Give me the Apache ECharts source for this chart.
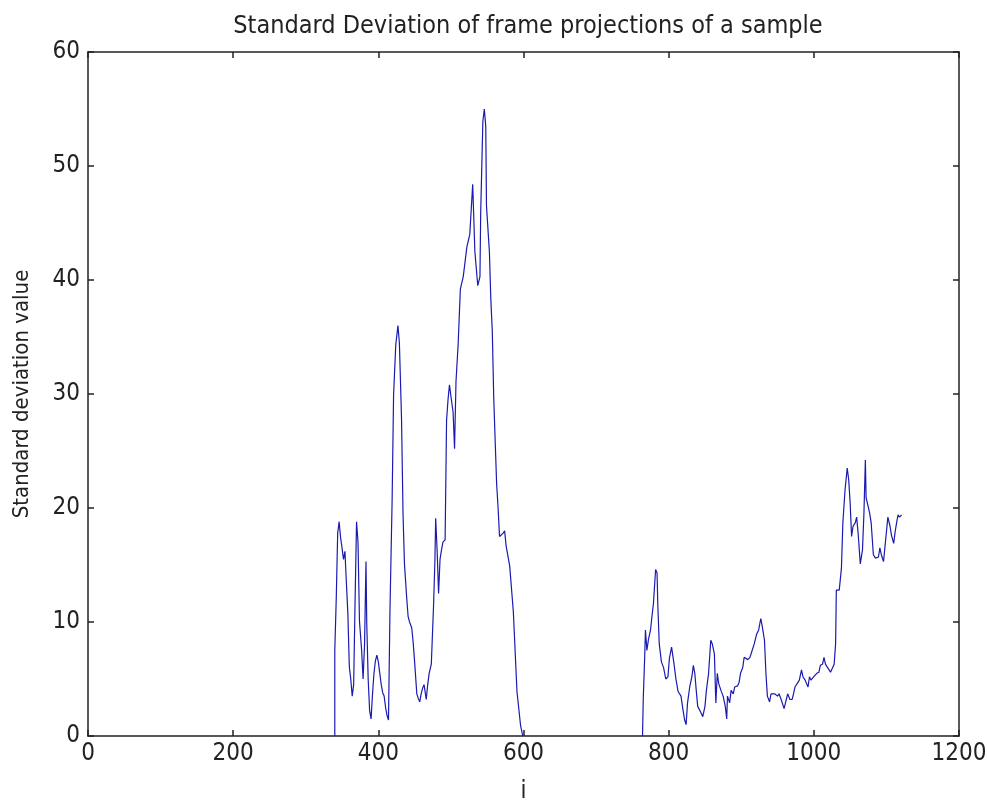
<!DOCTYPE html>
<html>
<head>
<meta charset="utf-8">
<script src="https://cdn.jsdelivr.net/npm/echarts@6/dist/echarts.min.js"></script>
<style>
  html, body { margin: 0; padding: 0; background: #fff; }
  #chart { width: 987px; height: 803px; }
</style>
</head>
<body>
<div id="chart"></div>
<script>
// frame index (i) and std value; null splits the two segments
const frameIdx = [
  340, 340, 342, 344, 346, 348, 350, 352, 354, 356, 358, 360, 362, 364, 366, 368, 370, 372, 374, 376,
  377, 379, 381, 383, 384, 386, 388, 390, 392, 394, 396, 398, 400, 402, 404, 406, 408, 410, 412, 414,
  416, 419, 421, 424, 427, 429, 431, 432, 434, 436, 439, 441, 443, 446, 448, 450, 453, 455, 457, 459,
  461, 463, 466, 468, 470, 473, 476, 478, 479, 481, 483, 485, 487, 489, 492, 494, 496, 498, 500, 503,
  505, 507, 510, 513, 517, 522, 526, 528, 530, 533, 537, 540, 541, 544, 546, 548, 549, 553, 555, 557,
  559, 563, 565, 567, 572, 574, 576, 581, 586, 591, 596, 599,
  null,
  764, 765, 767, 768, 770, 772, 775, 777, 779, 782, 784, 785, 787, 790, 793, 796, 799, 801, 804, 807,
  810, 813, 817, 819, 822, 824, 826, 829, 832, 834, 836, 838, 840, 844, 847, 850, 852, 855, 858, 860,
  863, 865, 867, 869, 872, 875, 878, 880, 881, 884, 886, 889, 891, 895, 897, 899, 902, 904, 906, 909,
  912, 915, 918, 921, 924, 926, 927, 929, 932, 934, 936, 939, 941, 946, 950, 952, 955, 959, 962, 964,
  967, 970, 972, 974, 977, 980, 983, 985, 988, 992, 994, 996, 1000, 1004, 1007, 1009, 1012, 1014, 1016, 1019,
  1023, 1025, 1028, 1030, 1031, 1035, 1038, 1040, 1043, 1046, 1048, 1050, 1052, 1054, 1057, 1059, 1061, 1064, 1067, 1069,
  1071, 1072, 1075, 1077, 1079, 1082, 1085, 1089, 1091, 1093, 1096, 1098, 1100, 1102, 1105, 1107, 1110, 1112, 1114, 1116,
  1118, 1121
];
const stdValue = [
  0, 7.5, 12, 17.8, 18.8, 17.4, 16.5, 15.5, 16.2, 13.4, 10.8, 6.1, 5, 3.5, 4.5, 12, 18.8, 17, 10.1, 10,
  7.5, 5, 8, 15.3, 10, 5, 2.2, 1.5, 3.7, 5.5, 6.6, 7.1, 6.5, 5.5, 4.5, 3.8, 3.5, 2.5, 1.8, 1.4,
  10.9, 20.7, 29.9, 34.3, 36, 34.5, 30, 27.7, 19.5, 15.1, 12.2, 10.5, 10, 9.5, 8.2, 6.5, 3.7, 3.3, 3, 3.7,
  4.2, 4.5, 3.2, 4.5, 5.5, 6.3, 11.3, 15.5, 19.1, 16.3, 12.5, 15.5, 16.3, 17, 17.2, 27.7, 29.5, 30.8, 29.8, 28.4,
  25.2, 31.1, 34.4, 39.2, 40.3, 42.9, 44, 46.2, 48.4, 42.5, 39.5, 40.3, 45.8, 53.9, 55, 53.5, 46.5, 42.5, 38.3, 35.5,
  29.6, 22.1, 20, 17.5, 17.8, 18, 16.7, 14.9, 10.9, 3.9, 0.9, 0,
  null,
  0, 3.3, 7, 9.3, 7.5, 8.4, 9.3, 10.5, 11.6, 14.6, 14.3, 11.6, 8.1, 6.5, 6, 5, 5.2, 6.8, 7.8, 6.5,
  5, 3.9, 3.5, 2.6, 1.4, 1, 2.9, 4.3, 5.2, 6.2, 5.5, 4, 2.6, 2.1, 1.7, 2.6, 4, 5.5, 8.4, 8.1,
  7.2, 2.9, 5.5, 4.6, 4, 3.5, 2.6, 1.5, 3.5, 2.9, 4, 3.7, 4.3, 4.4, 4.7, 5.5, 6, 6.9, 6.9, 6.7,
  6.9, 7.5, 8.1, 8.9, 9.3, 10, 10.3, 9.6, 8.4, 5.5, 3.5, 3, 3.7, 3.7, 3.5, 3.7, 3.2, 2.4, 3.2, 3.7,
  3.2, 3.2, 3.7, 4.3, 4.6, 4.9, 5.8, 5.2, 4.9, 4.3, 5.2, 4.9, 5.2, 5.5, 5.6, 6.2, 6.3, 6.9, 6.3, 6,
  5.6, 5.6, 6.3, 8.1, 12.8, 12.8, 14.7, 18.7, 21.6, 23.5, 22.5, 20.5, 17.5, 18.4, 18.7, 19.2, 17.8, 15.1, 16.3, 19.5,
  24.2, 20.9, 20.1, 19.5, 18.7, 15.9, 15.6, 15.7, 16.5, 15.9, 15.3, 16.6, 17.9, 19.2, 18.4, 17.6, 16.9, 17.9, 18.7, 19.4,
  19.2, 19.4
];

const titleText = 'Standard Deviation of frame projections of a sample';
const xName = 'i';
const yName = 'Standard deviation value';

const font = "'Liberation Sans Narrow', 'DejaVu Sans Condensed', 'Liberation Sans', sans-serif";
const black = '#222';

const chart = echarts.init(document.getElementById('chart'), null, { renderer: 'canvas' });

const lineData = frameIdx.map((x, k) => (x === null ? [null, null] : [x, stdValue[k]]));

// matlab-like box: ticks inside on all four sides
const plainAxis = (extra) => ({
  type: 'value',
  axisLine: { show: true, onZero: false, lineStyle: { color: black, width: 1.5 } },
  axisTick: { show: true, inside: true, length: 6, lineStyle: { color: black, width: 1.5 } },
  splitLine: { show: false },
  ...extra,
});

chart.setOption({
  animation: false,
  backgroundColor: '#fff',
  title: {
    text: titleText,
    left: 523,
    textAlign: 'center',
    top: 9,
    textStyle: { fontFamily: font, fontSize: 25, fontWeight: 'normal', color: black },
  },
  grid: { left: 88, top: 52, right: 28, bottom: 67, outerBoundsMode: 'none' },
  xAxis: [
    plainAxis({
      min: 0, max: 1200, interval: 200,
      name: xName, nameLocation: 'middle', nameGap: 44,
      nameTextStyle: { fontFamily: font, fontSize: 24, color: black },
      axisLabel: { fontFamily: font, fontSize: 24, color: black, margin: 6, formatter: (v) => String(v) },
    }),
    plainAxis({
      position: 'top', min: 0, max: 1200, interval: 200,
      axisLabel: { show: false },
    }),
  ],
  yAxis: [
    plainAxis({
      min: 0, max: 60, interval: 10,
      name: yName, nameLocation: 'middle', nameGap: 55,
      nameTextStyle: { fontFamily: font, fontSize: 22, color: black },
      axisLabel: { fontFamily: font, fontSize: 24, color: black, margin: 8 },
    }),
    plainAxis({
      position: 'right', min: 0, max: 60, interval: 10,
      axisLabel: { show: false },
    }),
  ],
  series: [
    {
      type: 'line',
      data: lineData,
      xAxisIndex: 0,
      yAxisIndex: 0,
      showSymbol: false,
      connectNulls: false,
      lineStyle: { color: '#1a1ab0', width: 1.2 },
    },
  ],
});
</script>
</body>
</html>
